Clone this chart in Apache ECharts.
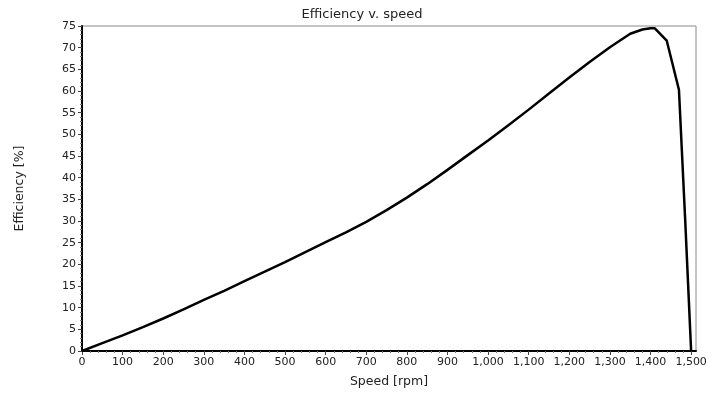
<!DOCTYPE html>
<html>
<head>
<meta charset="utf-8">
<title>Efficiency v. speed</title>
<script src="https://cdn.jsdelivr.net/npm/echarts@6/dist/echarts.min.js"></script>
<style>
  html, body { margin: 0; padding: 0; background: #fff; }
  #chart { width: 724px; height: 394px; }
</style>
</head>
<body>
<div id="chart"></div>
<script>
// speed [rpm] and efficiency [%]
var speed = [0, 50, 100, 150, 200, 250, 300, 350, 400, 450, 500, 550, 600, 650, 700, 750, 800, 850, 900, 950,
             1000, 1050, 1100, 1150, 1200, 1250, 1300, 1350, 1380, 1400, 1410, 1440, 1470, 1485, 1500];
var efficiency = [0, 1.8, 3.6, 5.5, 7.5, 9.6, 11.8, 13.9, 16.1, 18.3, 20.5, 22.8, 25.1, 27.4, 29.8, 32.5, 35.4, 38.5, 41.8, 45.2,
                  48.6, 52.1, 55.7, 59.4, 63.1, 66.7, 70.1, 73.2, 74.2, 74.5, 74.5, 71.6, 60.3, 31.0, 0];
var xTicks = [0, 100, 200, 300, 400, 500, 600, 700, 800, 900, 1000, 1100, 1200, 1300, 1400, 1500];

var points = speed.map(function (s, i) { return [s, efficiency[i]]; });

var chart = echarts.init(document.getElementById('chart'));
var font = 'DejaVu Sans, Verdana, sans-serif';

var option = {
    animation: false,
    title: {
        text: 'Efficiency v. speed',
        left: 'center',
        top: 3,
        textStyle: { fontFamily: font, fontSize: 13, fontWeight: 'normal', color: '#222' }
    },
    grid: {
        left: 82, right: 28, top: 26, bottom: 43,
        show: true, borderColor: '#8a8a8a', borderWidth: 1, backgroundColor: '#fff'
    },
    xAxis: {
        type: 'value',
        min: 0,
        max: 1512,
        interval: 100,
        name: 'Speed [rpm]',
        nameLocation: 'middle',
        nameGap: 24,
        nameTextStyle: { fontFamily: font, fontSize: 12.5, color: '#222' },
        axisLine: { onZero: false, lineStyle: { color: '#000', width: 2 } },
        axisTick: { customValues: xTicks, length: 4, lineStyle: { color: '#444' } },
        minorTick: { show: true, splitNumber: 5, length: 2, lineStyle: { color: '#777' } },
        axisLabel: {
            customValues: xTicks,
            margin: 6,
            fontFamily: font, fontSize: 11, color: '#222',
            formatter: function (v) { return v.toLocaleString('en-US'); }
        },
        splitLine: { show: false }
    },
    yAxis: {
        type: 'value',
        min: 0,
        max: 75,
        interval: 5,
        name: 'Efficiency [%]',
        nameLocation: 'middle',
        nameGap: 56,
        nameTextStyle: { fontFamily: font, fontSize: 12.5, color: '#222' },
        axisLine: { show: true, onZero: false, lineStyle: { color: '#000', width: 2 } },
        axisTick: { show: true, length: 4, lineStyle: { color: '#444' } },
        minorTick: { show: true, splitNumber: 5, length: 2, lineStyle: { color: '#777' } },
        axisLabel: { margin: 6, fontFamily: font, fontSize: 11, color: '#222' },
        splitLine: { show: false }
    },
    series: [{
        type: 'line',
        data: points,
        showSymbol: false,
        smooth: false,
        lineStyle: { color: '#000', width: 2.5 }
    }]
};
chart.setOption(option);
</script>
</body>
</html>
